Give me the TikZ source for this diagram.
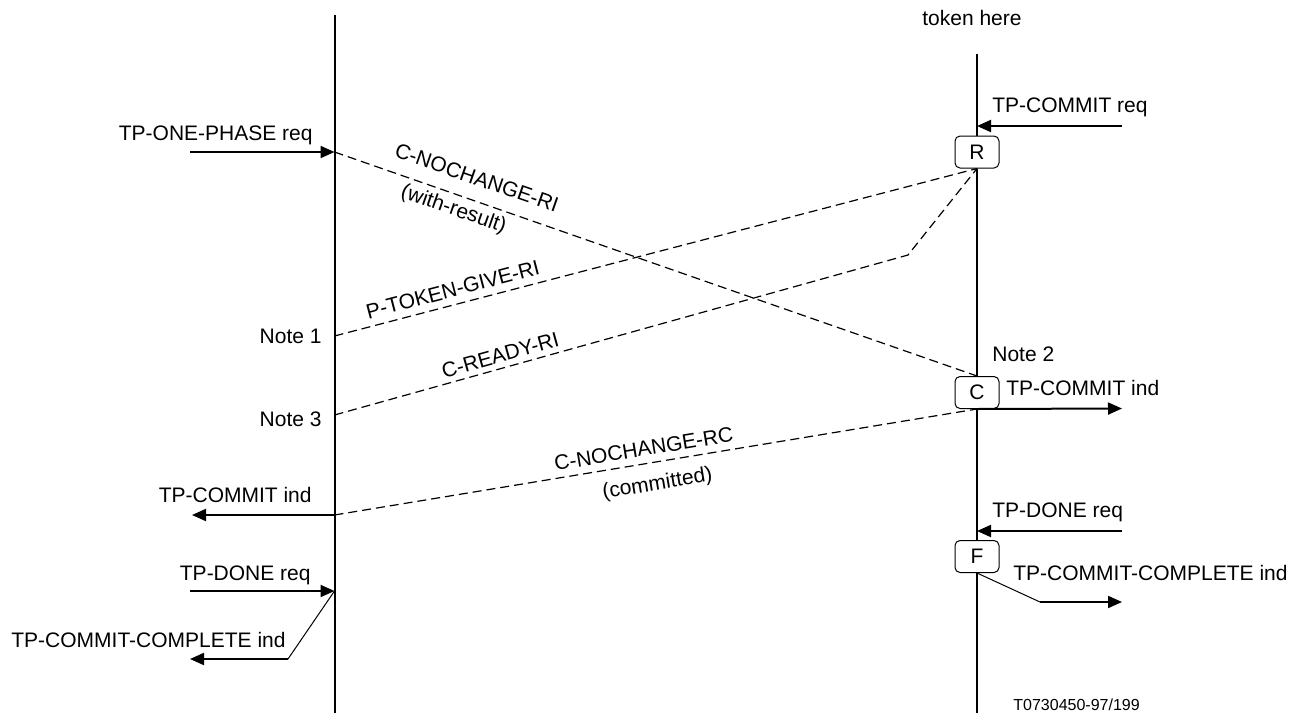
\documentclass[tikz,border=0pt]{standalone}
\usepackage{fontspec}
\setmainfont{Liberation Sans}
\usetikzlibrary{arrows.meta}
\begin{document}
\begin{tikzpicture}[x=0.5pt,y=-0.5pt,
  font=\fontsize{10.5}{12.6}\selectfont,
  life/.style={line width=1pt},
  msg/.style={line width=1pt,-{Triangle[length=7pt,width=6pt]}},
  thinline/.style={line width=0.5pt},
  pdu/.style={line width=0.6pt,dash pattern=on 4.5pt off 2.5pt},
  statebox/.style={draw,line width=0.5pt,rounded corners=2.5pt,minimum width=22pt,minimum height=16pt,inner sep=0pt},
  lbl/.style={inner sep=0pt},
  plbl/.style={inner sep=0pt,sloped},
]
\useasboundingbox (0,0) rectangle (1303,713);

% state boxes on the right lifeline
\node[statebox] (R) at (977,152) {R};
\node[statebox] (C) at (977,392.5) {C};
\node[statebox] (F) at (977,556.5) {F};

% lifelines
\coordinate (Ltop) at (334.5,15);
\coordinate (Lbot) at (334.5,713);
\coordinate (Rtop) at (977,54);
\coordinate (Rbot) at (977,713);
\draw[life] (Ltop) -- (Lbot);
\draw[life] (Rtop) -- (R.north);
\draw[life] (R.south) -- (C.north);
\draw[life] (C.south) -- (F.north);
\draw[life] (F.south) -- (Rbot);

% left side coordinates
\coordinate (opS) at (190,152);
\coordinate (opE) at (334.5,152);
\coordinate (n1) at (334.5,336);
\coordinate (n3) at (334.5,415);
\coordinate (ciL) at (334.5,515);
\coordinate (ciLe) at (192,515);
\coordinate (drS) at (190,591);
\coordinate (drE) at (334.5,591);
\coordinate (ccB) at (288,659);
\coordinate (ccE) at (190,659);

% right side coordinates
\coordinate (crS) at (1122,126);
\coordinate (crE) at (977,126);
\coordinate (ciRe) at (1122,408.5);
\coordinate (drRS) at (1122,531);
\coordinate (drRE) at (977,531);
\coordinate (ccRB) at (1040,602);
\coordinate (ccRE) at (1122,602);
\coordinate (bend) at (908,255);

% service primitives
\draw[msg] (opS) -- (opE);
\draw[msg] (ciL) -- (ciLe);
\draw[msg] (drS) -- (drE);
\draw[thinline] (drE) -- (ccB);
\draw[msg] (ccB) -- (ccE);

\draw[msg] (crS) -- (crE);
\draw[msg] (C.south) -- (ciRe);
\draw[msg] (drRS) -- (drRE);
\draw[thinline] (F.south) -- (ccRB);
\draw[msg] (ccRB) -- (ccRE);

% PDUs (dashed)
\draw[pdu] (opE) -- node[plbl,pos=0.21,above=7.25pt]{C-NOCHANGE-RI}
                    node[plbl,pos=0.193,below=2.5pt]{(with-result)} (C.north);
\draw[pdu] (n1) -- node[plbl,pos=0.19,above=3.5pt]{P-TOKEN-GIVE-RI} (R.south);
\draw[pdu] (n3) -- node[plbl,pos=0.295,above=2.5pt]{C-READY-RI} (bend) -- (R.south);
\draw[pdu] (ciL) -- node[plbl,pos=0.485,above=3.5pt]{C-NOCHANGE-RC}
                    node[plbl,pos=0.497,below=6pt]{(committed)} (C.south);

% labels left
\node[lbl,anchor=base east] (tOP) at (313,140) {TP-ONE-PHASE req};
\node[lbl,anchor=base east] (tN1) at (322,343) {Note 1};
\node[lbl,anchor=base east] (tN3) at (322,426) {Note 3};
\node[lbl,anchor=base east] (tCIL) at (312,502) {TP-COMMIT ind};
\node[lbl,anchor=base east] (tDRL) at (311,580) {TP-DONE req};
\node[lbl,anchor=base east] (tCCL) at (286,647) {TP-COMMIT-COMPLETE ind};

% labels right
\node[lbl,anchor=base east] (tTok) at (1022,25) {token here};
\node[lbl,anchor=base west] (tCR) at (992,112) {TP-COMMIT req};
\node[lbl,anchor=base west] (tN2) at (992,361) {Note 2};
\node[lbl,anchor=base west] (tCIR) at (1006,395) {TP-COMMIT ind};
\node[lbl,anchor=base west] (tDRR) at (992,517) {TP-DONE req};
\node[lbl,anchor=base west] (tCCR) at (1013,580) {TP-COMMIT-COMPLETE ind};
\node[lbl,anchor=base west,font=\fontsize{8}{9.6}\selectfont] (tId) at (1013,710) {T0730450-97/199};
\end{tikzpicture}
\end{document}
